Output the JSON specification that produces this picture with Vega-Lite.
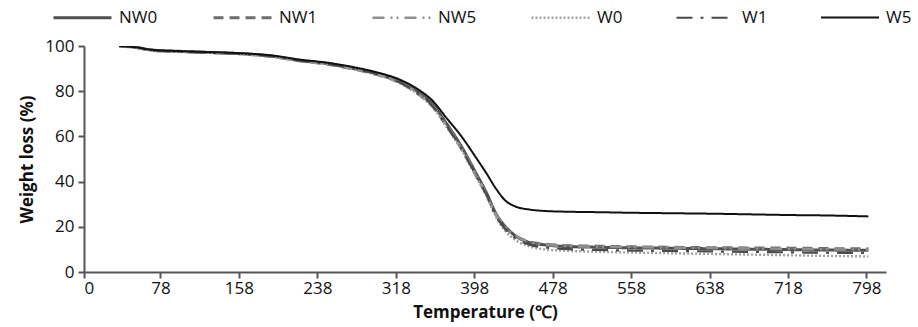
{
  "$schema": "https://vega.github.io/schema/vega-lite/v6.json",
  "width": 802,
  "height": 226,
  "autosize": "none",
  "padding": {"left": 84, "top": 46, "right": 32, "bottom": 55},
  "config": {
    "font": "Open Sans",
    "view": {"stroke": null},
    "axis": {"grid": false, "domainColor": "#555", "domainWidth": 2, "tickColor": "#555", "tickWidth": 2, "tickSize": 6, "labelFontSize": 17, "labelColor": "#111", "titleFontSize": 17, "titleFontWeight": "bold", "titleColor": "#111"}
  },
  "datasets": {
    "tga": [
      {"series":"NW0","T":36,"W":100},{"series":"NW0","T":50,"W":99.6},{"series":"NW0","T":70,"W":98.2},{"series":"NW0","T":100,"W":97.6},{"series":"NW0","T":130,"W":97.1},{"series":"NW0","T":160,"W":96.6},{"series":"NW0","T":190,"W":95.6},{"series":"NW0","T":220,"W":93.6},{"series":"NW0","T":250,"W":92.1},{"series":"NW0","T":280,"W":89.6},{"series":"NW0","T":300,"W":87.6},{"series":"NW0","T":320,"W":84.6},{"series":"NW0","T":340,"W":79.8},{"series":"NW0","T":355,"W":74.5},{"series":"NW0","T":370,"W":65.5},{"series":"NW0","T":385,"W":55.5},{"series":"NW0","T":400,"W":43.5},{"series":"NW0","T":410,"W":35.5},{"series":"NW0","T":420,"W":26},{"series":"NW0","T":430,"W":20},{"series":"NW0","T":440,"W":16},{"series":"NW0","T":455,"W":13},{"series":"NW0","T":470,"W":12},{"series":"NW0","T":490,"W":11.3},{"series":"NW0","T":520,"W":11},{"series":"NW0","T":560,"W":10.7},{"series":"NW0","T":600,"W":10.5},{"series":"NW0","T":640,"W":10.3},{"series":"NW0","T":680,"W":10.1},{"series":"NW0","T":720,"W":9.9},{"series":"NW0","T":760,"W":9.7},{"series":"NW0","T":800,"W":9.6},

      {"series":"NW1","T":36,"W":100},{"series":"NW1","T":50,"W":99.5},{"series":"NW1","T":70,"W":98},{"series":"NW1","T":100,"W":97.5},{"series":"NW1","T":130,"W":97},{"series":"NW1","T":160,"W":96.5},{"series":"NW1","T":190,"W":95.4},{"series":"NW1","T":220,"W":93.4},{"series":"NW1","T":250,"W":91.8},{"series":"NW1","T":280,"W":89.3},{"series":"NW1","T":300,"W":87.2},{"series":"NW1","T":320,"W":84.2},{"series":"NW1","T":340,"W":79},{"series":"NW1","T":355,"W":73.5},{"series":"NW1","T":370,"W":64.5},{"series":"NW1","T":385,"W":54.5},{"series":"NW1","T":400,"W":42.5},{"series":"NW1","T":410,"W":34.5},{"series":"NW1","T":420,"W":25.5},{"series":"NW1","T":430,"W":19.5},{"series":"NW1","T":440,"W":16},{"series":"NW1","T":455,"W":13.3},{"series":"NW1","T":470,"W":12.4},{"series":"NW1","T":490,"W":11.8},{"series":"NW1","T":520,"W":11.5},{"series":"NW1","T":560,"W":11.2},{"series":"NW1","T":600,"W":11},{"series":"NW1","T":640,"W":10.8},{"series":"NW1","T":680,"W":10.7},{"series":"NW1","T":720,"W":10.6},{"series":"NW1","T":760,"W":10.4},{"series":"NW1","T":800,"W":10.3},

      {"series":"NW5","T":36,"W":100},{"series":"NW5","T":50,"W":99.5},{"series":"NW5","T":70,"W":98.1},{"series":"NW5","T":100,"W":97.6},{"series":"NW5","T":130,"W":97.1},{"series":"NW5","T":160,"W":96.6},{"series":"NW5","T":190,"W":95.5},{"series":"NW5","T":220,"W":93.5},{"series":"NW5","T":250,"W":92},{"series":"NW5","T":280,"W":89.5},{"series":"NW5","T":300,"W":87.4},{"series":"NW5","T":320,"W":84.4},{"series":"NW5","T":340,"W":79.3},{"series":"NW5","T":355,"W":73.8},{"series":"NW5","T":370,"W":64.8},{"series":"NW5","T":385,"W":55},{"series":"NW5","T":400,"W":43},{"series":"NW5","T":410,"W":35},{"series":"NW5","T":420,"W":25.8},{"series":"NW5","T":430,"W":19.8},{"series":"NW5","T":440,"W":16},{"series":"NW5","T":455,"W":13.2},{"series":"NW5","T":470,"W":12.2},{"series":"NW5","T":490,"W":11.5},{"series":"NW5","T":520,"W":11.2},{"series":"NW5","T":560,"W":11},{"series":"NW5","T":600,"W":10.8},{"series":"NW5","T":640,"W":10.6},{"series":"NW5","T":680,"W":10.4},{"series":"NW5","T":720,"W":10.2},{"series":"NW5","T":760,"W":10},{"series":"NW5","T":800,"W":9.9},

      {"series":"W0","T":36,"W":100},{"series":"W0","T":50,"W":99.5},{"series":"W0","T":70,"W":98},{"series":"W0","T":100,"W":97.4},{"series":"W0","T":130,"W":96.9},{"series":"W0","T":160,"W":96.4},{"series":"W0","T":190,"W":95.3},{"series":"W0","T":220,"W":93.3},{"series":"W0","T":250,"W":91.8},{"series":"W0","T":280,"W":89.2},{"series":"W0","T":300,"W":87.1},{"series":"W0","T":320,"W":84},{"series":"W0","T":340,"W":78.8},{"series":"W0","T":355,"W":73.2},{"series":"W0","T":370,"W":64},{"series":"W0","T":385,"W":54},{"series":"W0","T":400,"W":42},{"series":"W0","T":410,"W":34},{"series":"W0","T":420,"W":24.5},{"series":"W0","T":430,"W":18},{"series":"W0","T":440,"W":14.2},{"series":"W0","T":455,"W":11.2},{"series":"W0","T":470,"W":10},{"series":"W0","T":490,"W":9.4},{"series":"W0","T":520,"W":9},{"series":"W0","T":560,"W":8.6},{"series":"W0","T":600,"W":8.3},{"series":"W0","T":640,"W":8},{"series":"W0","T":680,"W":7.7},{"series":"W0","T":720,"W":7.4},{"series":"W0","T":760,"W":7.1},{"series":"W0","T":800,"W":6.9},

      {"series":"W1","T":36,"W":100},{"series":"W1","T":50,"W":99.5},{"series":"W1","T":70,"W":98.1},{"series":"W1","T":100,"W":97.5},{"series":"W1","T":130,"W":97},{"series":"W1","T":160,"W":96.5},{"series":"W1","T":190,"W":95.5},{"series":"W1","T":220,"W":93.5},{"series":"W1","T":250,"W":92},{"series":"W1","T":280,"W":89.5},{"series":"W1","T":300,"W":87.4},{"series":"W1","T":320,"W":84.3},{"series":"W1","T":340,"W":79.2},{"series":"W1","T":355,"W":73.7},{"series":"W1","T":370,"W":64.6},{"series":"W1","T":385,"W":54.6},{"series":"W1","T":400,"W":42.6},{"series":"W1","T":410,"W":34.6},{"series":"W1","T":420,"W":25},{"series":"W1","T":430,"W":18.8},{"series":"W1","T":440,"W":15},{"series":"W1","T":455,"W":12},{"series":"W1","T":470,"W":10.9},{"series":"W1","T":490,"W":10.2},{"series":"W1","T":520,"W":9.8},{"series":"W1","T":560,"W":9.5},{"series":"W1","T":600,"W":9.3},{"series":"W1","T":640,"W":9.1},{"series":"W1","T":680,"W":8.9},{"series":"W1","T":720,"W":8.7},{"series":"W1","T":760,"W":8.5},{"series":"W1","T":800,"W":8.4},

      {"series":"W5","T":36,"W":100},{"series":"W5","T":50,"W":99.6},{"series":"W5","T":70,"W":98.3},{"series":"W5","T":100,"W":97.7},{"series":"W5","T":130,"W":97.3},{"series":"W5","T":160,"W":96.8},{"series":"W5","T":190,"W":95.9},{"series":"W5","T":220,"W":94},{"series":"W5","T":250,"W":92.5},{"series":"W5","T":280,"W":90.2},{"series":"W5","T":300,"W":88.2},{"series":"W5","T":320,"W":85.5},{"series":"W5","T":340,"W":81},{"series":"W5","T":355,"W":76},{"series":"W5","T":370,"W":68},{"series":"W5","T":385,"W":60},{"series":"W5","T":400,"W":50.5},{"series":"W5","T":410,"W":44},{"series":"W5","T":420,"W":37},{"series":"W5","T":430,"W":31.5},{"series":"W5","T":440,"W":29},{"series":"W5","T":455,"W":27.6},{"series":"W5","T":470,"W":27},{"series":"W5","T":490,"W":26.7},{"series":"W5","T":520,"W":26.5},{"series":"W5","T":560,"W":26.2},{"series":"W5","T":600,"W":26},{"series":"W5","T":640,"W":25.8},{"series":"W5","T":680,"W":25.5},{"series":"W5","T":720,"W":25.2},{"series":"W5","T":760,"W":25},{"series":"W5","T":800,"W":24.6}
    ]
  },
  "data": {"name": "tga"},
  "mark": {"type": "line", "interpolate": "monotone", "clip": true},
  "encoding": {
    "x": {"field": "T", "type": "quantitative", "scale": {"domain": [0, 818], "nice": false, "zero": false},
      "axis": {"title": "Temperature (℃)", "values": [0, 78, 158, 238, 318, 398, 478, 558, 638, 718, 798], "labelPadding": 2, "titlePadding": 8}},
    "y": {"field": "W", "type": "quantitative", "scale": {"domain": [0, 100], "nice": false},
      "axis": {"title": "Weight loss (%)", "values": [0, 20, 40, 60, 80, 100], "labelPadding": 4, "titlePadding": 8}},
    "color": {"field": "series", "type": "nominal",
      "scale": {"domain": ["NW0", "NW1", "NW5", "W0", "W1", "W5"], "range": ["#505050", "#6e6e6e", "#909090", "#a0a0a0", "#4a4a4a", "#111111"]},
      "legend": {"title": null, "orient": "none", "legendX": -32, "legendY": -59, "direction": "horizontal", "symbolType": "stroke", "symbolSize": 3364, "labelFontSize": 17, "labelColor": "#111", "labelOffset": 6, "columnPadding": 49, "labelLimit": 200}},
    "strokeDash": {"field": "series", "type": "nominal",
      "scale": {"domain": ["NW0", "NW1", "NW5", "W0", "W1", "W5"], "range": [[1, 0], [10, 6], [12, 6, 2, 4, 2, 6], [2, 2], [16, 8, 3, 8], [1, 0]]}},
    "strokeWidth": {"field": "series", "type": "nominal",
      "scale": {"domain": ["NW0", "NW1", "NW5", "W0", "W1", "W5"], "range": [3, 2, 2, 2, 3.5, 1.6]}},
    "order": {"field": "T", "type": "quantitative"}
  }
}
